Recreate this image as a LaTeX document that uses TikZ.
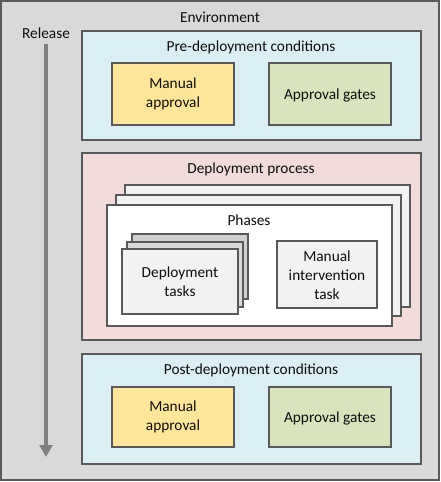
\documentclass[tikz,border=0pt]{standalone}
\usepackage{fontspec}
\setmainfont{Carlito}
\usepackage{xcolor}
\usetikzlibrary{arrows.meta}
\definecolor{envfill}{RGB}{217,217,217}
\definecolor{envline}{RGB}{89,89,89}
\definecolor{condfill}{RGB}{218,238,243}
\definecolor{procfill}{RGB}{242,220,219}
\definecolor{manfill}{RGB}{255,230,153}
\definecolor{gatefill}{RGB}{216,228,188}
\definecolor{phasefill}{RGB}{242,242,242}
\definecolor{taskback}{RGB}{208,208,208}
\definecolor{taskmid}{RGB}{217,217,217}
\definecolor{arrowgray}{RGB}{128,128,128}
\definecolor{textcol}{RGB}{13,13,13}

\begin{document}
\begin{tikzpicture}[x=0.75pt,y=-0.75pt,
  every node/.style={font=\fontsize{11.5}{14.2}\selectfont,text=textcol,align=center,inner sep=0pt},
  boxline/.style={draw=envline,line width=0.9pt}]
\useasboundingbox (0,0) rectangle (441,482);
% Environment
\filldraw[boxline,fill=envfill] (1,1) rectangle (439,480);
\node (env) at (220,17) {Environment};
% Release
\node (rel) at (46,33) {Release};
\coordinate (relstart) at (46,44);
\coordinate (relend) at (46,457);
\draw[arrowgray,line width=2.4pt,-{Triangle[length=9pt,width=9.5pt]}] (relstart) -- (relend);
% Pre
\filldraw[boxline,fill=condfill] (82,31) rectangle (421,140);
\node (pre) at (251,47) {Pre-deployment conditions};
\filldraw[boxline,fill=manfill] (112,63) rectangle (234,125);
\node (premanual) at (173,94) {Manual\\approval};
\filldraw[boxline,fill=gatefill] (269,63) rectangle (391,125);
\node (pregates) at (330,95) {Approval gates};
% Process
\filldraw[boxline,fill=procfill] (82,153) rectangle (421,340);
\node (proc) at (251,169) {Deployment process};
\filldraw[boxline,fill=phasefill] (125,185) rectangle (410,307);
\filldraw[boxline,fill=phasefill] (116,195) rectangle (401,316);
\filldraw[boxline,fill=white] (107,205) rectangle (392,326);
\node (phases) at (249,220) {Phases};
\filldraw[boxline,fill=taskback] (132,234) rectangle (248,299);
\filldraw[boxline,fill=taskmid] (127,242) rectangle (243,307);
\filldraw[boxline,fill=phasefill] (122,249) rectangle (238,314);
\node (tasks) at (180,282) {Deployment\\tasks};
\filldraw[boxline,fill=phasefill] (277,241) rectangle (377,308);
\node (interv) at (327,275) {Manual\\intervention\\task};
% Post
\filldraw[boxline,fill=condfill] (82,354) rectangle (421,464);
\node (post) at (251,370) {Post-deployment conditions};
\filldraw[boxline,fill=manfill] (112,387) rectangle (234,447);
\node (postmanual) at (173,417) {Manual\\approval};
\filldraw[boxline,fill=gatefill] (269,387) rectangle (391,447);
\node (postgates) at (330,418) {Approval gates};
\end{tikzpicture}
\end{document}
